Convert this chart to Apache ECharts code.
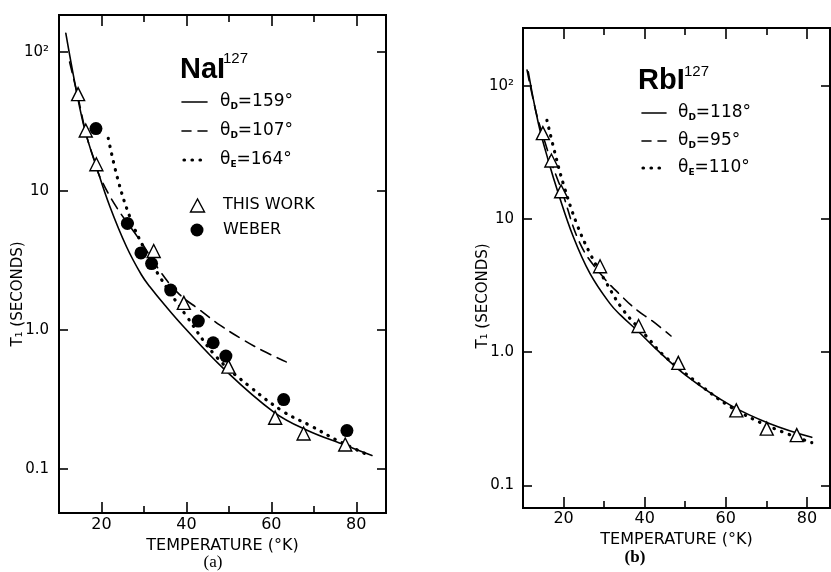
<!DOCTYPE html>
<html>
<head>
<meta charset="utf-8">
<script src="https://cdn.jsdelivr.net/npm/echarts@6/dist/echarts.min.js"></script>
<style>
html,body{margin:0;padding:0;background:#fff}
#chart{width:831px;height:572px}
</style>
</head>
<body>
<div id="chart"></div>
<script>
// NaI127 - this work (triangles) and Weber (dots)
var naTempThis = [14.5, 16.3, 18.8, 32.3, 39.4, 49.9, 60.9, 67.6, 77.4];
var naT1This = [49.9, 27.3, 15.6, 3.71, 1.57, 0.545, 0.234, 0.180, 0.150];
var naTempWeber = [18.7, 26.1, 29.3, 31.8, 36.3, 42.8, 46.3, 49.3, 62.9, 77.8];
var naT1Weber = [28.2, 5.86, 3.59, 3.01, 1.94, 1.16, 0.81, 0.65, 0.316, 0.189];
// NaI curves
var naTempD159 = [11.6, 13.9, 16.1, 18.8, 22.0, 25.9, 29.4, 31.4, 35.0, 39.3, 48.7, 60.5, 68.4, 77.5, 83.7];
var naT1D159 = [137, 56.5, 27.5, 15.0, 7.73, 3.98, 2.5, 2.05, 1.5, 1.06, 0.53, 0.258, 0.19, 0.148, 0.125];
var naTempD107 = [12.5, 14.5, 16.5, 18.5, 19.6, 23.5, 29.0, 33.8, 38.0, 43.2, 48.0, 53.4, 58.0, 63.5];
var naT1D107 = [85, 47, 25, 16, 12.7, 7.7, 4.45, 2.65, 1.85, 1.39, 1.08, 0.85, 0.71, 0.59];
var naTempE164 = [21.6, 23.9, 26.7, 29.8, 33.8, 40.1, 47.1, 55.0, 62.9, 69.2, 76.0, 83.3];
var naT1E164 = [24, 12.0, 6.5, 4.0, 2.4, 1.25, 0.64, 0.39, 0.258, 0.205, 0.158, 0.124];

// RbI127
var rbTempThis = [14.9, 17.0, 19.4, 29.0, 38.5, 48.3, 62.6, 70.1, 77.5];
var rbT1This = [44.0, 27.4, 16.1, 4.41, 1.57, 0.83, 0.365, 0.266, 0.238];
var rbTempD118 = [11.3, 13.8, 16.2, 18.7, 22.4, 26.5, 31.4, 34.0, 38.5, 42.2, 50.4, 61.1, 70.9, 81.2];
var rbT1D118 = [127, 52, 27.7, 15.6, 7.35, 3.9, 2.32, 1.9, 1.42, 1.10, 0.66, 0.40, 0.29, 0.229];
var rbTempD95 = [11.0, 13.3, 15.5, 17.5, 19.5, 24.0, 29.0, 34.8, 38.5, 41.8, 46.5];
var rbT1D95 = [131, 62, 37, 24, 16.5, 6.6, 3.9, 2.54, 2.02, 1.72, 1.32];
var rbTempE110 = [15.9, 17.9, 19.9, 23.2, 26.5, 30.6, 34.8, 40.6, 44.6, 53.7, 61.1, 70.9, 81.2];
var rbT1E110 = [55, 31, 18.5, 9.27, 5.52, 3.29, 2.05, 1.30, 0.95, 0.566, 0.389, 0.275, 0.209];

// ticks
var xMajor = [20, 40, 60, 80];
var xMinor = [30, 50, 70];
var yDecades = [0.1, 1, 10, 100];

var FONT = 'DejaVu Sans';

function pts(xs, ys){
	return xs.map(function(x, i){ return [x, ys[i]]; });
}

function xAx(grid, pos, ticks, len, min, max, labels, name, gap, margin){
	return {
		type: 'value', gridIndex: grid, position: pos, min: min, max: max,
		axisLine: {show: false},
		splitLine: {show: false},
		axisTick: {show: true, inside: true, length: len, customValues: ticks,
			lineStyle: {color: '#000', width: 1.6}},
		axisLabel: {show: labels, customValues: ticks, margin: margin,
			color: '#000', fontSize: 16, fontFamily: FONT},
		name: name || '', nameLocation: 'middle', nameGap: gap,
		nameTextStyle: {color: '#000', fontSize: 16, fontFamily: FONT}
	};
}

function yAx(grid, pos, min, max, labels, margin){
	return {
		type: 'log', logBase: 10, gridIndex: grid, position: pos, min: min, max: max,
		axisLine: {show: false},
		splitLine: {show: false},
		axisTick: {show: true, inside: true, length: 9, customValues: yDecades,
			lineStyle: {color: '#000', width: 1.6}},
		axisLabel: {show: labels, customValues: yDecades, margin: margin,
			color: '#000', fontSize: 15, fontFamily: FONT,
			formatter: function(v){
				var e = Math.round(Math.log10(v));
				return e == 2 ? '10²' : e == 1 ? '10' : e == 0 ? '1.0' : '0.1';
			}}
	};
}

function curve(name, data, xi, yi, type, width){
	return {
		type: 'line', name: name, data: data, xAxisIndex: xi, yAxisIndex: yi,
		showSymbol: false, smooth: 0.4, silent: true, z: 2,
		lineStyle: {color: '#000', width: width, type: type, cap: 'round'}
	};
}

function marks(name, data, xi, yi, sym){
	return {
		type: 'scatter', name: name, data: data, xAxisIndex: xi, yAxisIndex: yi,
		symbol: sym, symbolSize: 13, z: 4, silent: true,
		itemStyle: sym == 'triangle'
			? {color: '#fff', borderColor: '#000', borderWidth: 1.4, opacity: 1}
			: {color: '#000', opacity: 1}
	};
}

function txt(x, y, s, size, opts){
	var st = {text: s, x: 0, y: 0, fill: '#000', fontSize: size, fontFamily: FONT,
		align: 'left', verticalAlign: 'middle'};
	for (var k in opts) st[k] = opts[k];
	return {type: 'text', x: x, y: y, style: st};
}

function theta(x, y, sub, rest){
	return {type: 'text', x: x, y: y, style: {
		text: '{a|θ}{s|' + sub + '}{a|=' + rest + '°}',
		align: 'left', verticalAlign: 'middle',
		rich: {
			a: {fontSize: 17, fontFamily: FONT, fill: '#000', lineHeight: 20},
			s: {fontSize: 9, fontFamily: FONT, fontWeight: 'bold', fill: '#000', padding: [9, 0, 0, 0], lineHeight: 20}
		}
	}};
}

function legLine(x1, x2, y, dash, w){
	return {type: 'line', shape: {x1: x1, y1: y, x2: x2, y2: y},
		style: {stroke: '#000', lineWidth: w, lineDash: dash, lineCap: 'round'}};
}

var chart = echarts.init(document.getElementById('chart'), null, {renderer: 'canvas'});

var option = {
	animation: false,
	backgroundColor: '#fff',
	grid: [
		{left: 59, top: 15, width: 327, height: 498, show: true, borderColor: '#000', borderWidth: 2},
		{left: 523, top: 28, width: 307, height: 480, show: true, borderColor: '#000', borderWidth: 2}
	],
	xAxis: [
		xAx(0, 'bottom', xMajor, 11, 10, 87, true, 'TEMPERATURE (°K)', 21, 4),
		xAx(0, 'bottom', xMinor, 7, 10, 87, false),
		xAx(0, 'top', xMajor, 11, 10, 87, false),
		xAx(0, 'top', xMinor, 7, 10, 87, false),
		xAx(1, 'bottom', xMajor, 11, 10, 85.7, true, 'TEMPERATURE (°K)', 15, 3),
		xAx(1, 'bottom', xMinor, 7, 10, 85.7, false),
		xAx(1, 'top', xMajor, 11, 10, 85.7, false),
		xAx(1, 'top', xMinor, 7, 10, 85.7, false)
	],
	yAxis: [
		yAx(0, 'left', 0.0482, 185.3, true, 10),
		yAx(0, 'right', 0.0482, 185.3, false, 8),
		yAx(1, 'left', 0.0675, 271, true, 9),
		yAx(1, 'right', 0.0675, 271, false, 8)
	],
	series: [
		curve('θD=159°', pts(naTempD159, naT1D159), 0, 0, 'solid', 1.6),
		curve('θD=107°', pts(naTempD107, naT1D107), 0, 0, [11, 7], 1.6),
		curve('θE=164°', pts(naTempE164, naT1E164), 0, 0, [0.5, 7.5], 3.2),
		marks('THIS WORK', pts(naTempThis, naT1This), 0, 0, 'triangle'),
		marks('WEBER', pts(naTempWeber, naT1Weber), 0, 0, 'circle'),
		curve('θD=118°', pts(rbTempD118, rbT1D118), 4, 2, 'solid', 1.6),
		curve('θD=95°', pts(rbTempD95, rbT1D95), 4, 2, [11, 7], 1.6),
		curve('θE=110°', pts(rbTempE110, rbT1E110), 4, 2, [0.5, 7.5], 3.2),
		marks('THIS WORK', pts(rbTempThis, rbT1This), 4, 2, 'triangle')
	],
	graphic: [
		// panel (a) labels
		txt(180, 70, 'NaI', 29, {fontFamily: 'Liberation Sans', fontWeight: 'bold'}),
		txt(223, 59, '127', 15, {fontFamily: 'Liberation Sans'}),
		legLine(182, 207, 102, null, 1.6),
		theta(220, 102, 'D', '159'),
		legLine(182, 207, 131, [9, 7], 1.6),
		theta(220, 131, 'D', '107'),
		legLine(184, 207, 160, [0.5, 7.5], 3.2),
		theta(220, 160, 'E', '164'),
		{type: 'polygon', shape: {points: [[197.5, 199], [190.5, 212], [204.5, 212]]},
			style: {fill: '#fff', stroke: '#000', lineWidth: 1.4}},
		txt(223, 205, 'THIS WORK', 16),
		{type: 'circle', shape: {cx: 197, cy: 230, r: 6.5}, style: {fill: '#000'}},
		txt(223, 230, 'WEBER', 16),
		{type: 'text', x: 18, y: 294, rotation: Math.PI / 2, style: {
			text: 'T₁ (SECONDS)', fill: '#000', fontSize: 15, fontFamily: FONT,
			align: 'center', verticalAlign: 'middle'}},
		txt(213, 563, '(a)', 17, {fontFamily: 'Liberation Serif', align: 'center'}),
		// panel (b) labels
		txt(638, 81, 'RbI', 29, {fontFamily: 'Liberation Sans', fontWeight: 'bold'}),
		txt(684, 72, '127', 15, {fontFamily: 'Liberation Sans'}),
		legLine(642, 666, 113, null, 1.6),
		theta(678, 113, 'D', '118'),
		legLine(642, 666, 141, [9, 7], 1.6),
		theta(678, 141, 'D', '95'),
		legLine(643, 666, 168, [0.5, 7.5], 3.2),
		theta(678, 168, 'E', '110'),
		{type: 'text', x: 483, y: 296, rotation: Math.PI / 2, style: {
			text: 'T₁ (SECONDS)', fill: '#000', fontSize: 15, fontFamily: FONT,
			align: 'center', verticalAlign: 'middle'}},
		txt(635, 558, '(b)', 17, {fontFamily: 'Liberation Serif', fontWeight: 'bold', align: 'center'})
	]
};

chart.setOption(option);
</script>
</body>
</html>
